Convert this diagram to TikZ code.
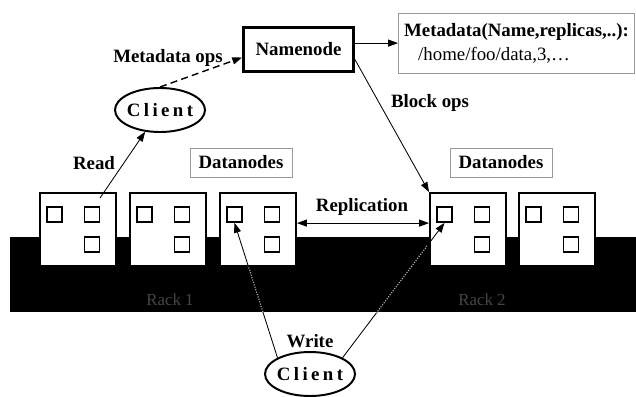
\documentclass[tikz,border=0pt]{standalone}
\usepackage{fontspec}
\setmainfont{Liberation Serif}
\newfontfamily\spacedfont[LetterSpace=18]{Liberation Serif}
\usetikzlibrary{arrows.meta,shapes}

\begin{document}
\begin{tikzpicture}[x=0.025cm,y=-0.025cm,
    font=\fontsize{13.4}{16}\selectfont\bfseries,
    arr/.style={-{Triangle[length=7pt,width=5pt]},line width=0.6pt},
    ghost/.style={gray!60,line width=0.8pt,densely dotted},
    client/.style={ellipse,draw,line width=1.4pt,minimum width=2.25cm,minimum height=1.1cm,inner sep=-1pt},
    tagbox/.style={draw=gray!80,line width=0.6pt,minimum width=2.55cm,minimum height=0.725cm,inner sep=0pt},
    dn/.style={draw,fill=white,line width=1.4pt,minimum width=1.9cm,minimum height=1.825cm,inner sep=0pt},
    blk/.style={draw,fill=white,line width=1.2pt,minimum size=0.375cm,inner sep=0pt}]
  \useasboundingbox (0,0) rectangle (636,396);
  % racks
  \fill (10,237) rectangle (636,312);
  \node[text=gray!55!black,font=\fontsize{12}{14}\selectfont] (rack1) at (170,300) {Rack 1};
  \node[text=gray!55!black,font=\fontsize{12}{14}\selectfont] (rack2) at (482,300) {Rack 2};
  % datanodes
  \foreach \n/\x in {1/39,2/129,3/219,4/429,5/518} {
    \node[dn,anchor=north west] (dn\n) at (\x,192) {};
    \node[blk] (dn\n a) at (\x+15.5,214.5) {};
    \node[blk] (dn\n b) at (\x+53,214.5) {};
    \node[blk] (dn\n c) at (\x+53,244.5) {};
  }
  \node[tagbox] (dtag1) at (241,162.5) {Datanodes};
  \node[tagbox] (dtag2) at (501,162.5) {Datanodes};
  % namenode and metadata
  \node[draw,line width=2pt,minimum width=2.75cm,minimum height=1.1cm] (nn) at (298.5,49.5) {Namenode};
  \node[draw=gray!80,line width=0.6pt,anchor=north west,minimum width=5.9cm,minimum height=1.5cm,align=left] (meta) at (398,13)
    {Metadata(Name,replicas,..):\\[1pt] \mdseries\hspace{10pt}/home/foo/data,3,\ldots};
  % clients
  \node[client] (c1) at (160,110) {\spacedfont\bfseries Client};
  \node[client] (c2) at (310,374) {\spacedfont\bfseries Client};
  \coordinate (rd) at (100,198);
  % connectors
  \draw[arr] (rd) -- (c1);
  \draw[arr,line width=1pt,dash pattern=on 5pt off 3pt] (c1.north) -- ([yshift=-0.2cm]nn.west);
  \draw[arr] ([yshift=0.16cm]nn.east) -- ([yshift=0.16cm]nn.east -| meta.west);
  \draw[arr] ([yshift=-0.25cm]nn.east) -- (dn4.north west);
  \draw[{Triangle[length=7pt,width=5pt]}-{Triangle[length=7pt,width=5pt]},line width=0.6pt]
    ([yshift=0.16cm]dn3.east) -- ([yshift=0.16cm]dn4.west);
  \draw[arr] (c2.north west) -- (dn3a.south);
  \draw[arr] (c2.north east) -- (dn4a.south);
  % write lines where they cross the black rack
  \begin{scope}
    \clip (10,266) rectangle (636,312);
    \draw[ghost] (c2.north west) -- (dn3a.south);
    \draw[ghost] (c2.north east) -- (dn4a.south);
  \end{scope}
  \begin{scope}
    \clip (297,237) rectangle (427,266);
    \draw[ghost] (c2.north east) -- (dn4a.south);
  \end{scope}
  % labels
  \node (mdops) at (168,58) {Metadata ops};
  \node (readl) at (94,163) {Read};
  \node (blkops) at (430,103) {Block ops};
  \node (repl) at (362,207) {Replication};
  \node (wrl) at (310,341) {Write};
\end{tikzpicture}
\end{document}
